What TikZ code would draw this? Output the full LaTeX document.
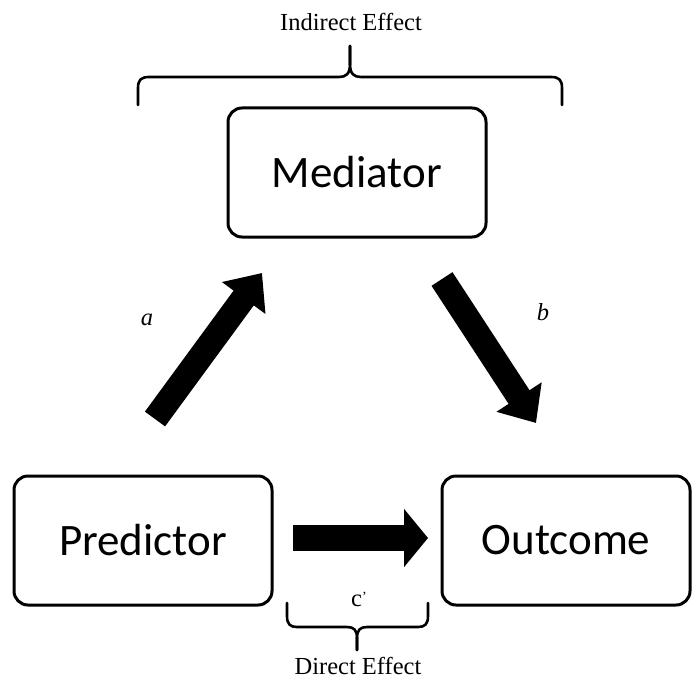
\documentclass[tikz,border=0pt]{standalone}
\usepackage{fontspec}
\setmainfont{Liberation Serif}
\newfontfamily\boxfont{Carlito}
\usetikzlibrary{arrows.meta}
\begin{document}
\begin{tikzpicture}[x=1pt,y=-1pt,
  varbox/.style={draw, line width=3pt, rounded corners=14pt, minimum height=129pt, inner sep=0pt, font=\boxfont\fontsize{45}{50}\selectfont},
  bracepath/.style={line width=2.6pt, line cap=round, line join=round},
  lbl/.style={font=\fontsize{24.5}{28}\selectfont, inner sep=0pt}]
\useasboundingbox (0,0) rectangle (692,679);
% boxes
\node[varbox, minimum width=258pt] (med) at (357,172.5) {Mediator};
\node[varbox, minimum width=258pt] (pred) at (143,540.5) {Predictor};
\node[varbox, minimum width=248pt] (out) at (566,540.5) {Outcome};
% arrow end points
\coordinate (aTail) at (155,419);
\coordinate (aTip) at (262,273);
\coordinate (bTail) at (442,279);
\coordinate (bTip) at (536,423);
\coordinate (cTail) at (293,538);
\coordinate (cTip) at (428,538);
\draw[line width=25pt, -{Triangle[length=31pt,width=52pt]}] (aTail) -- (aTip);
\draw[line width=25pt, -{Triangle[length=31pt,width=52pt]}] (bTail) -- (bTip);
\draw[line width=26pt, -{Triangle[length=24pt,width=57pt]}] (cTail) -- (cTip);
% labels
\node[lbl] (la) at (147,320) {\itshape a};
\node[lbl] (lb) at (543,312) {\itshape b};
\node[lbl] (lc) at (359,599) {c\raisebox{0.45ex}{\fontsize{14}{15}\selectfont ’}};
% top brace
\coordinate (tbL) at (138,105);
\coordinate (tbR) at (562,105);
\coordinate (tbM) at (350,46);
\draw[bracepath] (tbL) -- (138,88) .. controls (138,80) and (141,77) .. (149,77)
  -- (339,77) .. controls (346,77) and (350,74) .. (350,64) -- (tbM);
\draw[bracepath] (tbR) -- (562,88) .. controls (562,80) and (559,77) .. (551,77)
  -- (361,77) .. controls (354,77) and (350,74) .. (350,64) -- (tbM);
\node[lbl] (ind) at (351,22) {Indirect Effect};
% bottom brace
\coordinate (bbL) at (287,603);
\coordinate (bbR) at (428,603);
\coordinate (bbM) at (357,650);
\draw[bracepath] (bbL) -- (287,616) .. controls (287,624) and (290,627) .. (297,627)
  -- (347,627) .. controls (354,627) and (357,630) .. (357,638) -- (bbM);
\draw[bracepath] (bbR) -- (428,616) .. controls (428,624) and (425,627) .. (418,627)
  -- (367,627) .. controls (360,627) and (357,630) .. (357,638) -- (bbM);
\node[lbl, anchor=base] (dir) at (358,674) {Direct Effect};
\end{tikzpicture}
\end{document}
